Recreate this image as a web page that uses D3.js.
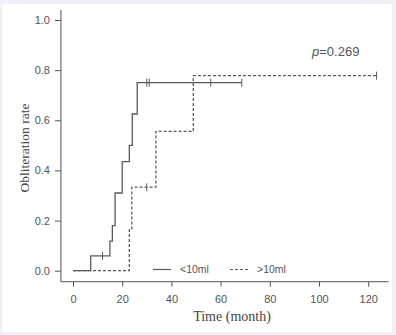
<!DOCTYPE html>
<html>
<head>
<meta charset="utf-8">
<script src="https://cdn.jsdelivr.net/npm/d3@7"></script>
<style>
  body { margin: 0; background: #eef0f5; }
  svg { display: block; }
</style>
</head>
<body>
<svg id="chart" width="396" height="335"></svg>
<script>
// *** Data ***

// <10ml group: step times (month) and obliteration rate after each step
var smallTimes = [0, 7.2, 15, 16, 17.1, 20, 22.9, 24.1, 26.1, 68.6];
var smallRates = [0, 0.059, 0.118, 0.18, 0.31, 0.435, 0.5, 0.625, 0.75, 0.75];
var smallCensor = [12, 30, 31, 56, 68.6];

// >10ml group
var largeTimes = [0, 22.9, 23.9, 33.7, 48.9, 123.4];
var largeRates = [0, 0.167, 0.333, 0.556, 0.778, 0.778];
var largeCensor = [30, 123.4];

var xTicks = [0, 20, 40, 60, 80, 100, 120];
var yTicks = [0, 0.2, 0.4, 0.6, 0.8, 1.0];

var legendLabels = ["<10ml", ">10ml"];
var pText = "0.269";

// *** Chart ***

var svg = d3.select("#chart");

// white panel
svg.append("rect")
    .attr("x", 2).attr("y", 4)
    .attr("width", 390).attr("height", 328)
    .attr("fill", "#fff");

var x = d3.scaleLinear().domain([0, 120]).range([73, 368.2]);
var y = d3.scaleLinear().domain([0, 1]).range([270.7, 20]);

var axisColor = "#555";
var lineColor = "#5a5a5a";

// R style extended axis lines (4% beyond data)
var xLo = -4.9, xHi = 128.3, yLo = -0.044, yHi = 1.04;

svg.append("line")
    .attr("x1", x(xLo)).attr("x2", x(xLo))
    .attr("y1", y(yHi)).attr("y2", y(yLo))
    .attr("stroke", axisColor).attr("stroke-width", 1);
svg.append("line")
    .attr("x1", x(xLo)).attr("x2", x(xHi))
    .attr("y1", y(yLo)).attr("y2", y(yLo))
    .attr("stroke", axisColor).attr("stroke-width", 1);

var yAxisG = svg.append("g")
    .attr("transform", "translate(" + x(xLo) + ",0)")
    .call(d3.axisLeft(y).tickValues(yTicks).tickFormat(d3.format(".1f")).tickSize(6).tickPadding(5));
var xAxisG = svg.append("g")
    .attr("transform", "translate(0," + y(yLo) + ")")
    .call(d3.axisBottom(x).tickValues(xTicks).tickSize(5).tickPadding(8));

[yAxisG, xAxisG].forEach(function (g) {
  g.select(".domain").remove();
  g.selectAll(".tick line").attr("stroke", axisColor);
  g.selectAll(".tick text")
      .attr("fill", "#555")
      .attr("font-family", "Liberation Sans, Arial, sans-serif")
      .attr("font-size", 11);
});

// axis titles
svg.append("text")
    .attr("x", 232).attr("y", 321)
    .attr("text-anchor", "middle")
    .attr("font-family", "Liberation Serif, Times New Roman, serif")
    .attr("font-size", 14)
    .attr("fill", "#444")
    .text("Time (month)");

svg.append("text")
    .attr("transform", "translate(29,148) rotate(-90)")
    .attr("text-anchor", "middle")
    .attr("font-family", "Liberation Serif, Times New Roman, serif")
    .attr("font-size", 13.5)
    .attr("fill", "#444")
    .text("Obliteration rate");

// survival step curves
var stepLine = d3.line()
    .x(d => x(d[0]))
    .y(d => y(d[1]))
    .curve(d3.curveStepAfter);

function drawGroup(times, rates, censor, dash) {
  var pts = times.map((t, i) => [t, rates[i]]);
  svg.append("path")
      .attr("d", stepLine(pts))
      .attr("fill", "none")
      .attr("stroke", lineColor)
      .attr("stroke-width", 1.3)
      .attr("stroke-dasharray", dash);

  // censor marks
  censor.forEach(function (c) {
    var idx = d3.bisectRight(times, c) - 1;
    var v = rates[Math.max(0, idx)];
    svg.append("line")
        .attr("x1", x(c)).attr("x2", x(c))
        .attr("y1", y(v) - 4).attr("y2", y(v) + 4)
        .attr("stroke", lineColor)
        .attr("stroke-width", 1);
  });
}

drawGroup(largeTimes, largeRates, largeCensor, "3,2");
drawGroup(smallTimes, smallRates, smallCensor, null);

// legend
var legendItems = [
  {label: legendLabels[0], x0: 153, dash: null},
  {label: legendLabels[1], x0: 230, dash: "3,2"}
];
legendItems.forEach(function (d) {
  svg.append("line")
      .attr("x1", d.x0).attr("x2", d.x0 + 18)
      .attr("y1", 269.5).attr("y2", 269.5)
      .attr("stroke", lineColor)
      .attr("stroke-width", 1.2)
      .attr("stroke-dasharray", d.dash);
  svg.append("text")
      .attr("x", d.x0 + 27).attr("y", 273)
      .attr("font-family", "Liberation Sans, Arial, sans-serif")
      .attr("font-size", 10.5)
      .attr("fill", "#555")
      .text(d.label);
});

// p value
var pLabel = svg.append("text")
    .attr("x", 312).attr("y", 56)
    .attr("font-family", "Liberation Sans, Arial, sans-serif")
    .attr("font-size", 13)
    .attr("fill", "#555");
pLabel.append("tspan").attr("font-style", "italic").text("p");
pLabel.append("tspan").text("=" + pText);
</script>
</body>
</html>
